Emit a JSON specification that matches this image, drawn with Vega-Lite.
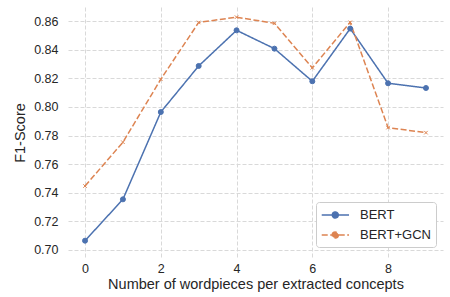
{
  "$schema": "https://vega.github.io/schema/vega-lite/v6.json",
  "width": 375,
  "height": 251,
  "padding": {"left": 68, "top": 7, "right": 7, "bottom": 39},
  "autosize": {"type": "none"},
  "background": "white",
  "config": {
    "font": "Liberation Sans",
    "view": {"stroke": null},
    "axis": {
      "domain": false,
      "ticks": false,
      "grid": true,
      "gridColor": "#d9d9d9",
      "gridDash": [4, 2],
      "gridWidth": 1,
      "labelFont": "Liberation Sans",
      "labelFontSize": 12.5,
      "labelColor": "#262626",
      "titleFont": "Liberation Sans",
      "titleFontSize": 14.5,
      "titleFontWeight": "normal",
      "titleColor": "#262626"
    },
    "legend": {
      "labelFont": "Liberation Sans",
      "labelFontSize": 13,
      "labelColor": "#262626"
    }
  },
  "resolve": {"legend": {"color": "independent", "shape": "independent", "stroke": "independent", "strokeDash": "independent"}},
  "data": {
    "values": [
      {"n": 0, "model": "BERT", "f1": 0.7065},
      {"n": 1, "model": "BERT", "f1": 0.7354},
      {"n": 2, "model": "BERT", "f1": 0.7964},
      {"n": 3, "model": "BERT", "f1": 0.8286},
      {"n": 4, "model": "BERT", "f1": 0.8535},
      {"n": 5, "model": "BERT", "f1": 0.8407},
      {"n": 6, "model": "BERT", "f1": 0.8179},
      {"n": 7, "model": "BERT", "f1": 0.8547},
      {"n": 8, "model": "BERT", "f1": 0.8165},
      {"n": 9, "model": "BERT", "f1": 0.8132},
      {"n": 0, "model": "BERT+GCN", "f1": 0.7447},
      {"n": 1, "model": "BERT+GCN", "f1": 0.7753},
      {"n": 2, "model": "BERT+GCN", "f1": 0.8193},
      {"n": 3, "model": "BERT+GCN", "f1": 0.8590},
      {"n": 4, "model": "BERT+GCN", "f1": 0.8627},
      {"n": 5, "model": "BERT+GCN", "f1": 0.8584},
      {"n": 6, "model": "BERT+GCN", "f1": 0.8273},
      {"n": 7, "model": "BERT+GCN", "f1": 0.8591},
      {"n": 8, "model": "BERT+GCN", "f1": 0.7855},
      {"n": 9, "model": "BERT+GCN", "f1": 0.7820}
    ]
  },
  "encoding": {
    "x": {
      "field": "n",
      "type": "quantitative",
      "scale": {"domain": [-0.45, 9.45], "nice": false, "zero": false},
      "axis": {"values": [0, 2, 4, 6, 8], "title": "Number of wordpieces per extracted concepts", "labelPadding": 4, "titlePadding": 3}
    },
    "y": {
      "field": "f1",
      "type": "quantitative",
      "scale": {"domain": [0.6944, 0.8698], "nice": false, "zero": false},
      "axis": {"values": [0.70, 0.72, 0.74, 0.76, 0.78, 0.80, 0.82, 0.84, 0.86], "format": ".2f", "title": "F1-Score", "labelPadding": 10, "titlePadding": 6}
    }
  },
  "layer": [
    {
      "mark": {"type": "line", "strokeWidth": 1.5},
      "encoding": {
        "color": {
          "field": "model",
          "type": "nominal",
          "scale": {"domain": ["BERT", "BERT+GCN"], "range": ["#4c72b0", "#dd8452"]},
          "legend": {
            "title": null,
            "orient": "none",
            "legendX": 248,
            "legendY": 195,
            "padding": 5,
            "fillColor": "white",
            "strokeColor": "#cccccc",
            "cornerRadius": 3,
            "symbolType": "M-1.04,0L2.86,0M0.47,0A0.43,0.43,0,1,1,1.33,0A0.43,0.43,0,1,1,0.47,0Z",
            "symbolSize": 196,
            "symbolStrokeWidth": 1.5,
            "rowPadding": 5,
            "labelOffset": 23,
            "encode": {"symbols": {"update": {"fill": [{"test": "datum.value === 'BERT'", "value": "#4c72b0"}, {"value": "#dd8452"}]}}}
          }
        },
        "strokeDash": {
          "field": "model",
          "type": "nominal",
          "scale": {"domain": ["BERT", "BERT+GCN"], "range": [[1, 0], [6, 2.5]]},
          "legend": null
        }
      }
    },
    {
      "mark": {"type": "point", "filled": true, "size": 25, "opacity": 1, "strokeWidth": 1},
      "encoding": {
        "color": {"field": "model", "type": "nominal", "legend": null},
        "stroke": {"field": "model", "type": "nominal", "legend": null, "scale": {"domain": ["BERT", "BERT+GCN"], "range": ["#4c72b0", "#dd8452"]}},
        "shape": {
          "field": "model",
          "type": "nominal",
          "scale": {"domain": ["BERT", "BERT+GCN"], "range": ["circle", "M-0.7,-0.7L0.7,0.7M0.7,-0.7L-0.7,0.7"]},
          "legend": null
        }
      }
    }
  ]
}
